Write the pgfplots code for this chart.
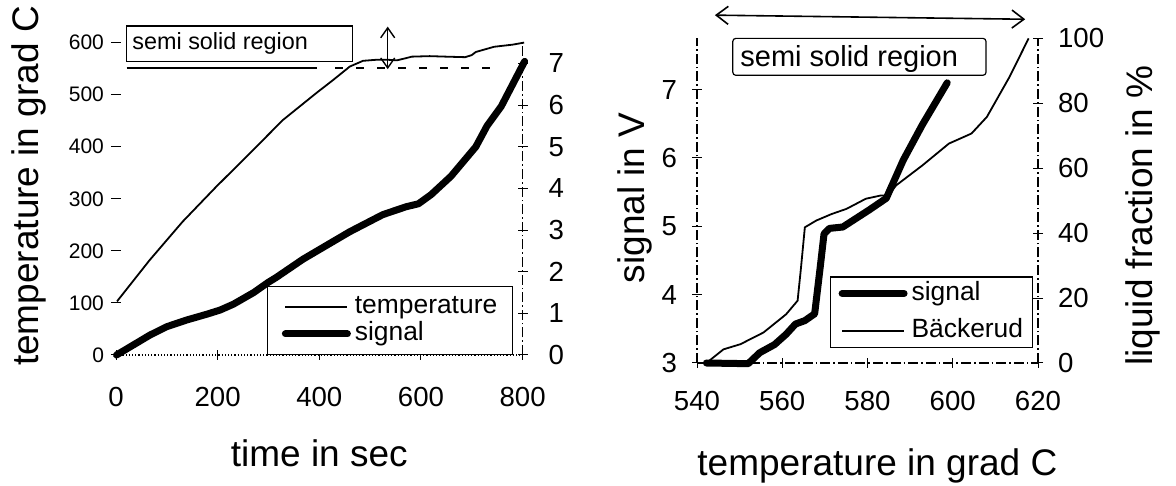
\documentclass[border=0pt]{standalone}
\usepackage{fontspec}
\setmainfont{Liberation Sans}
\usepackage{pgfplots}
\pgfplotsset{compat=1.18}
\usetikzlibrary{arrows.meta}

% fonts (1 px of the reference = 0.5pt)
\newcommand{\lab}{\fontsize{18.5pt}{21pt}\selectfont}
\newcommand{\tkl}{\fontsize{13.8pt}{16pt}\selectfont}
\newcommand{\tks}{\fontsize{10.5pt}{12pt}\selectfont}
\newcommand{\leg}{\fontsize{13.2pt}{15pt}\selectfont}

\tikzset{dashdot axis/.style={-, line width=0.6pt, dash pattern=on 5pt off 1.5pt on 0.8pt off 1.5pt}}

\pgfplotsset{
  common/.style={
    scale only axis, clip=false,
    tick align=center, major tick length=5pt,
    tick style={black, line width=0.5pt},
    /pgf/number format/assume math mode=true,
    /pgf/number format/1000 sep={},
  },
  box legend/.style={
    legend cell align=left,
    legend image code/.code={\draw[##1] (0pt,0pt) -- (31pt,0pt);},
    legend style={draw=black, line width=0.6pt, font=\leg,
      nodes={inner sep=0.5pt, text height=9.6pt, text depth=2.9pt},
      /tikz/column sep=1.5pt},
  },
  thin curve/.style={black, line width=0.9pt, line join=round},
  thick curve/.style={black, line width=3.5pt, line join=round, line cap=round},
}

\begin{document}
\begin{tikzpicture}
\path[use as bounding box] (0,0) rectangle (588pt,243pt);

%% ---------- left panel: temperature and signal over time ----------
\begin{axis}[common,
  at={(58pt,65.5pt)}, anchor=south west,
  width=203.3pt, height=156.2pt,
  xmin=0, xmax=800, ymin=0, ymax=600,
  axis x line*=bottom, axis y line*=left,
  x axis line style={-, line width=0.6pt, densely dotted},
  y axis line style={draw=none},
  xtick={0,200,400,600,800}, ytick={0,100,...,600},
  xticklabel style={font=\tkl, yshift=-10pt},
  yticklabel style={font=\tks},
  xlabel={time in sec}, ylabel={temperature in grad C},
  xlabel style={font=\lab, at={(rel axis cs:0.5,-0.314)}, anchor=center},
  ylabel style={font=\lab, at={(rel axis cs:-0.214,0.541)}, anchor=center},
]
\addplot[thin curve] coordinates {
  (2,103) (66,182) (131,256) (197,323) (263,387) (328,451) (394,503)
  (427,528) (460,554) (486,565) (512,567) (535,567) (553,566) (570,570)
  (582,573) (617,574) (650,573) (687,572) (700,576) (708,582) (744,592)
  (780,596) (803,600)
};
% semi solid region marker
\draw[line width=0.6pt] (axis cs:21,563.5) rectangle (axis cs:464.6,632);
\node[anchor=west, font=\fontsize{11.7pt}{13pt}\selectfont, inner sep=0pt]
  at (axis cs:31.5,598) {semi solid region};
\draw[line width=1pt] (axis cs:21,550.8) -- (axis cs:394.7,550.8);
\draw[line width=1pt, dash pattern=on 4pt off 6.5pt] (axis cs:431.5,550.8) -- (axis cs:743.5,550.8);
\draw[line width=0.7pt, {Straight Barb[length=5pt,width=7pt]}-{Straight Barb[length=5pt,width=7pt]}]
  (axis cs:534.6,549) -- (axis cs:534.6,630.7);
\end{axis}

\begin{axis}[common, box legend,
  at={(58pt,65.5pt)}, anchor=south west,
  width=203.3pt, height=156.2pt,
  xmin=0, xmax=800, ymin=0, ymax=7.5,
  axis x line=none, axis y line*=right,
  y axis line style={dashdot axis},
  ytick={0,1,...,7},
  yticklabel style={font=\tkl, xshift=7pt},
  legend style={at={(0.976,0)}, anchor=south east, inner xsep=7pt, inner ysep=3.5pt},
]
\addlegendimage{thin curve}
\addlegendentry{temperature}
\addplot[thick curve] coordinates {
  (1,0) (34,0.24) (67,0.48) (100,0.68) (139,0.84) (179,0.98) (205,1.08)
  (231,1.22) (271,1.5) (299,1.74) (315,1.86) (368,2.3) (400,2.53) (460,2.96)
  (525,3.37) (571,3.56) (595,3.63) (620,3.85) (659,4.29) (708,5.0) (730,5.5)
  (758,5.97) (804,7.05)
};
\addlegendentry{signal}
\end{axis}

%% ---------- right panel: signal and liquid fraction over temperature ----------
\begin{axis}[common,
  at={(348.5pt,61.5pt)}, anchor=south west,
  width=170.5pt, height=162.3pt,
  xmin=540, xmax=620, ymin=3, ymax=7.75,
  axis x line*=bottom, axis y line*=left,
  x axis line style={dashdot axis}, y axis line style={dashdot axis},
  xtick={540,560,...,620}, ytick={3,4,...,7},
  xticklabel style={font=\tkl, yshift=-8pt},
  yticklabel style={font=\tkl, xshift=-4pt},
  xlabel={temperature in grad C}, ylabel={signal in V},
  xlabel style={font=\lab, at={(rel axis cs:0.529,-0.318)}, anchor=center},
  ylabel style={font=\lab, at={(rel axis cs:-0.182,0.509)}, anchor=center},
]
\addplot[thick curve] coordinates {
  (542.2,3.0) (552.0,2.99) (554.7,3.15) (558.2,3.27) (560.9,3.42) (563.1,3.57)
  (565.3,3.62) (567.6,3.72) (568.9,4.40) (569.8,4.89) (571.1,4.97) (574.2,4.99)
  (580.4,5.24) (584.4,5.41) (588.4,5.97) (592.9,6.49) (598.7,7.10)
};
\draw[line width=0.6pt, rounded corners=1.5pt] (axis cs:548.4,7.21) rectangle (axis cs:607.8,7.75);
\node[anchor=west, font=\fontsize{14.5pt}{16pt}\selectfont, inner sep=0pt]
  at (axis cs:550.1,7.45) {semi solid region};
\draw[line width=0.8pt, {Straight Barb[length=6pt,width=9pt]}-{Straight Barb[length=6pt,width=9pt]}]
  (axis cs:544.2,8.09) -- (axis cs:617,8.03);
\end{axis}

\begin{axis}[common, box legend,
  at={(348.5pt,61.5pt)}, anchor=south west,
  width=170.5pt, height=162.3pt,
  xmin=540, xmax=620, ymin=0, ymax=100,
  axis x line=none, axis y line*=right,
  y axis line style={dashdot axis},
  ytick={0,20,...,100},
  yticklabel style={font=\tkl, xshift=4pt},
  ylabel={liquid fraction in \%},
  ylabel style={font=\lab, at={(rel axis cs:1.308,0.454)}, anchor=center},
  legend style={at={(0.9845,0.045)}, anchor=south east, inner xsep=4pt, inner ysep=1.5pt,
    /tikz/row sep=5.4pt},
]
\addlegendimage{thick curve}
\addlegendentry{signal}
\addplot[thin curve] coordinates {
  (542.2,0) (546.2,4.2) (550.2,5.8) (555.6,9.4) (560.9,15.0) (563.6,19.2)
  (564.4,29.4) (565.3,41.8) (568.0,43.9) (571.6,45.9) (575.1,47.5) (579.6,50.6)
  (583.1,51.6) (584.9,51.6) (586.7,54.7) (592.9,60.9) (599.1,67.6) (604.4,70.7)
  (608.0,75.8) (613.3,88.1) (617.8,100)
};
\addlegendentry{Bäckerud}
\end{axis}
\end{tikzpicture}
\end{document}
